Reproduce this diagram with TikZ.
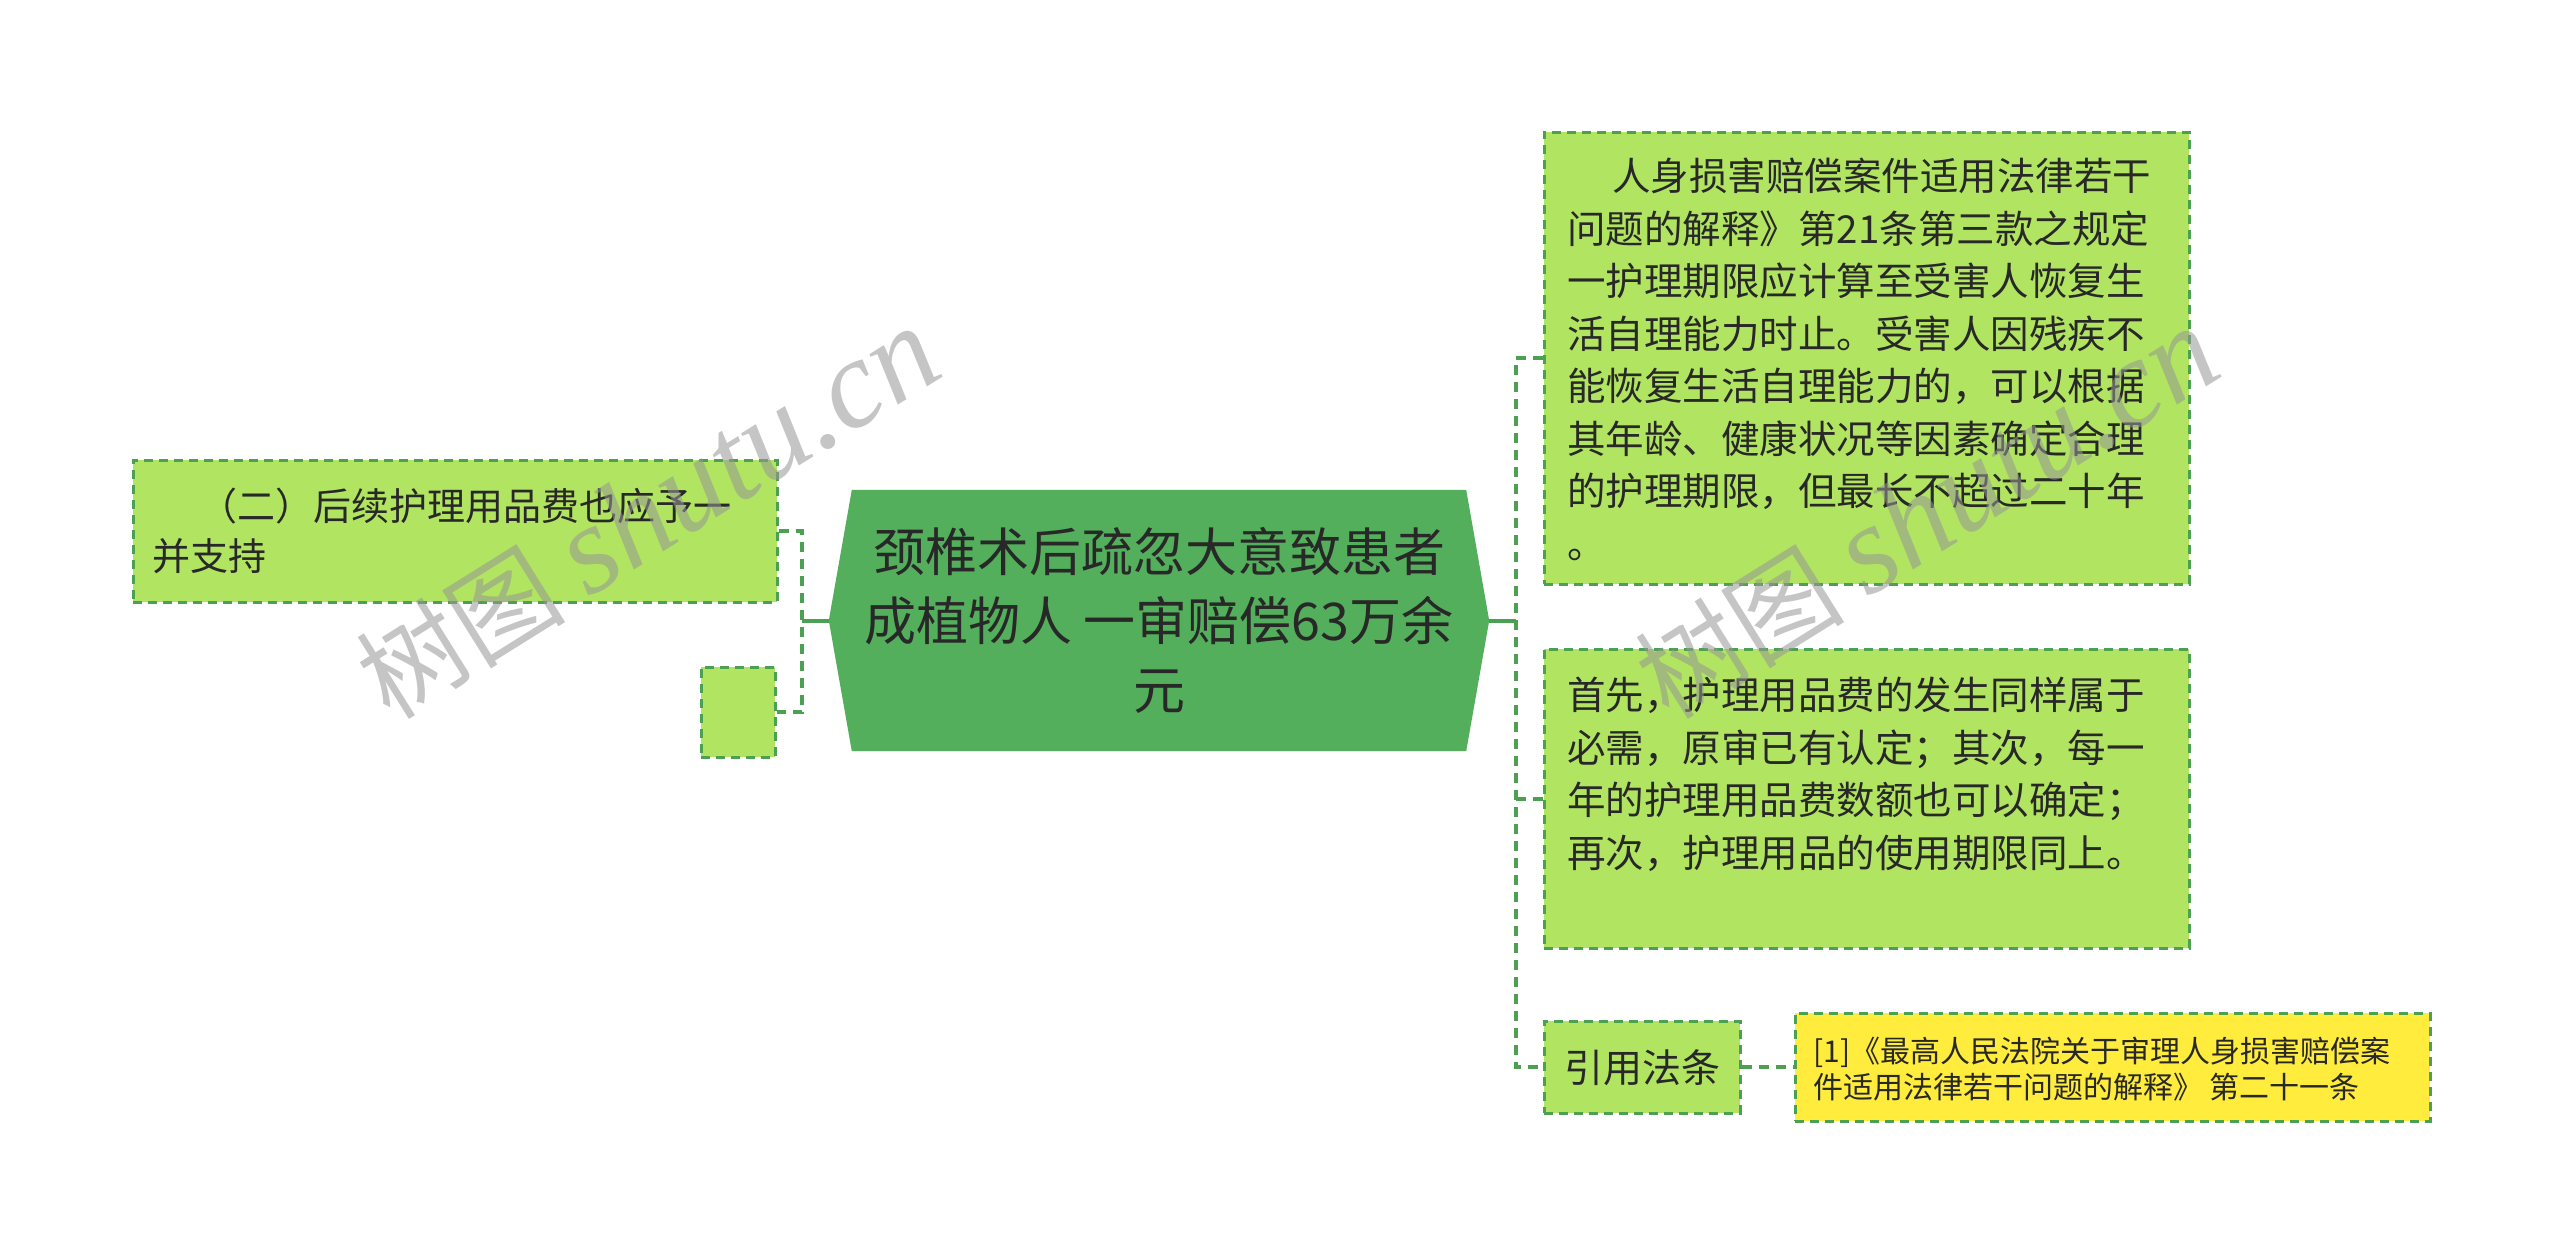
\documentclass[tikz,border=0pt]{standalone}
\usepackage{fontspec}
\setmainfont{Noto Sans CJK SC}
\newfontfamily\wmlatin{Liberation Serif}
\usetikzlibrary{backgrounds}
\definecolor{cgreen}{RGB}{84,175,92}
\definecolor{lgreen}{RGB}{177,228,97}
\definecolor{bgreen}{RGB}{76,160,82}
\definecolor{ylw}{RGB}{255,236,60}
\definecolor{txt}{RGB}{40,40,40}
\definecolor{wm}{RGB}{150,150,150}
\begin{document}
\begin{tikzpicture}[x=1pt,y=-1pt,
  box/.style={draw=bgreen, line width=2.5pt, dash pattern=on 9pt off 6pt, fill=lgreen,
    anchor=north west, inner ysep=0pt, text=txt},
  link/.style={draw=bgreen, line width=4pt, dash pattern=on 10pt off 7pt},
  linksolid/.style={draw=bgreen, line width=4pt},
  wmark/.style={text=wm, opacity=0.55, rotate=32, inner sep=0pt}]

\useasboundingbox (0,0) rectangle (2560,1250);

% central topic
\node[text=txt, align=center, font=\fontsize{52}{69}\selectfont,
  minimum width=660pt, minimum height=261pt, inner sep=0pt] (c) at (1159,620.5)
  {颈椎术后疏忽大意致患者\\成植物人 一审赔偿63万余\\元};

\begin{scope}[on background layer]
  \fill[white] (0,0) rectangle (2560,1250);
  \fill[cgreen] (c.west) -- ([xshift=23pt]c.north west) -- ([xshift=-23pt]c.north east)
    -- (c.east) -- ([xshift=-23pt]c.south east) -- ([xshift=23pt]c.south west) -- cycle;
\end{scope}

% left branch
\node[box, inner xsep=19pt, font=\fontsize{38}{50}\selectfont] (l1) at (132,459)
  {\parbox[c][142pt][t]{606pt}{\rule{0pt}{60.5pt}\hspace*{47pt}（二）后续护理用品费也应予一\\并支持}};
\node[box, inner sep=0pt, minimum width=74pt, minimum height=90pt] (l2) at (700,666) {};

% right branch
\node[box, inner xsep=23pt, font=\fontsize{38.5}{52.5}\selectfont] (r1) at (1543,131)
  {\parbox[c][452pt][t]{599pt}{\rule{0pt}{58.6pt}\hspace*{45pt}人身损害赔偿案件适用法律若干\\问题的解释》第21条第三款之规定\\一护理期限应计算至受害人恢复生\\活自理能力时止。受害人因残疾不\\能恢复生活自理能力的，可以根据\\其年龄、健康状况等因素确定合理\\的护理期限，但最长不超过二十年\\。}};
\node[box, inner xsep=23pt, font=\fontsize{38.5}{52.5}\selectfont] (r2) at (1543,648)
  {\parbox[c][299pt][t]{599pt}{\rule{0pt}{60.6pt}首先，护理用品费的发生同样属于\\必需，原审已有认定；其次，每一\\年的护理用品费数额也可以确定；\\再次，护理用品的使用期限同上。}};
\node[box, inner sep=0pt, minimum width=196pt, minimum height=92pt,
  font=\fontsize{39}{46}\selectfont] (r3) at (1543,1020) {引用法条};
\node[box, fill=ylw, inner xsep=18pt, font=\fontsize{30}{36}\selectfont] (y1) at (1794,1012)
  {\parbox[c][108pt][t]{599pt}{\rule{0pt}{49.4pt}[1]《最高人民法院关于审理人身损害赔偿案\\件适用法律若干问题的解释》 第二十一条}};

% connectors
\coordinate (lj) at (802,620.5);
\coordinate (rj) at (1516,620.5);
\draw[linksolid] (c.west) -- (lj);
\draw[link] (l1.east) -| (lj) |- (l2.east);
\draw[linksolid] (c.east) -- (rj);
\draw[link] (r1.west) -| (rj) |- (r3.west);
\draw[link] (rj |- r2.west) -- (r2.west);
\draw[link] (r3.east) -- (y1.west);

% watermarks
\node[wmark] (wm1) at (648,514)
  {\fontsize{105}{105}\selectfont 树图 {\wmlatin\itshape\fontsize{126}{126}\selectfont shutu.cn}};
\node[wmark] (wm2) at (1927,514)
  {\fontsize{105}{105}\selectfont 树图 {\wmlatin\itshape\fontsize{126}{126}\selectfont shutu.cn}};
\end{tikzpicture}
\end{document}
